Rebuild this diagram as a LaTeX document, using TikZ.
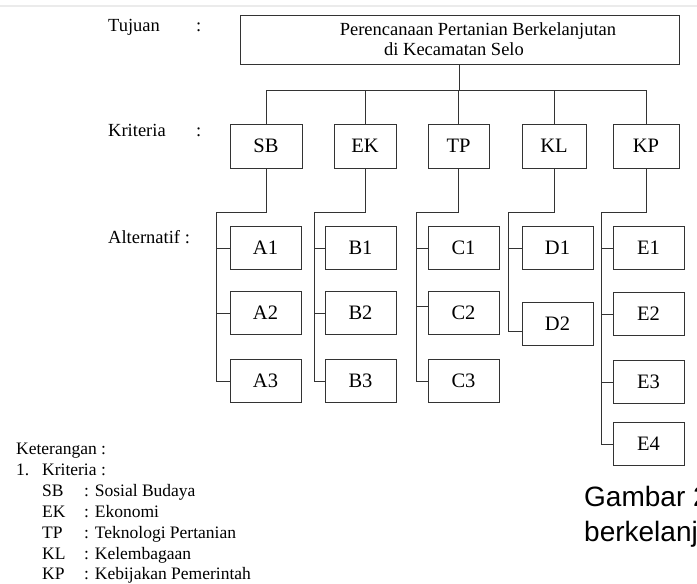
\documentclass[tikz,border=0pt]{standalone}
\usepackage{fontspec}
\setmainfont{Liberation Serif}
\newfontfamily\capfont{Liberation Sans}
\usepackage{tikz}
\usetikzlibrary{positioning}
\definecolor{hierline}{HTML}{333333}

\begin{document}
\begin{tikzpicture}[
  x=1pt, y=-1pt,
  font=\fontsize{18.5}{20}\selectfont,
  goal/.style={draw=hierline, line width=1pt, align=center, minimum width=439pt, minimum height=49pt, inner sep=2pt},
  crit/.style={draw=hierline, line width=1pt, minimum height=44pt, inner sep=1pt, font=\fontsize{20.5}{22}\selectfont},
  alt/.style={draw=hierline, line width=1pt, minimum width=71pt, minimum height=43pt, inner sep=1pt, font=\fontsize{20.5}{22}\selectfont},
  link/.style={draw=hierline, line width=1pt},
  lbl/.style={anchor=base west, inner sep=0pt},
  legend/.style={anchor=base west, inner sep=0pt, font=\fontsize{17.5}{20}\selectfont},
  caption/.style={anchor=base west, inner sep=0pt, font=\capfont\fontsize{28}{32}\selectfont}
]
\useasboundingbox (0,0) rectangle (697,584);
\draw[black!8, line width=2pt] (0,6) -- (697,6);

% levels
\node[lbl] (tujuan) at (108,31) {Tujuan};
\node[lbl] (tujuanColon) at (196,31) {:};
\node[lbl] (kriteria) at (108,136) {Kriteria};
\node[lbl] (kriteriaColon) at (196,136) {:};
\node[lbl] (alternatif) at (108,243) {Alternatif :};

% goal and criteria
\node[goal] (goal) at (459.5,39.5) {\hspace*{37pt}Perencanaan Pertanian Berkelanjutan\\di Kecamatan Selo\hspace*{11pt}};
\node[crit, minimum width=72pt] (sb) at (266,146) {SB};
\node[crit, minimum width=62pt] (ek) at (365,146) {EK};
\node[crit, minimum width=61pt] (tp) at (458.5,146) {TP};
\node[crit, minimum width=64pt] (kl) at (554,146) {KL};
\node[crit, minimum width=66pt] (kp) at (646,146) {KP};

% alternatives
\node[alt] (a1) at (265.5,248) {A1};
\node[alt, below=21pt of a1] (a2) {A2};
\node[alt, below=24pt of a2] (a3) {A3};
\node[alt] (b1) at (360.5,248) {B1};
\node[alt, below=21pt of b1] (b2) {B2};
\node[alt, below=24pt of b2] (b3) {B3};
\node[alt] (c1) at (463.5,248) {C1};
\node[alt, below=21pt of c1] (c2) {C2};
\node[alt, below=24pt of c2] (c3) {C3};
\node[alt] (d1) at (557.5,248) {D1};
\node[alt, below=32pt of d1] (d2) {D2};
\node[alt] (e1) at (648.5,248) {E1};
\node[alt, below=22pt of e1] (e2) {E2};
\node[alt, below=24pt of e2] (e3) {E3};
\node[alt, below=18pt of e3] (e4) {E4};

\coordinate (bus) at (0,90);
\coordinate (ta) at (216,212);
\coordinate (tb) at (314,212);
\coordinate (tc) at (416,212);
\coordinate (td) at (508,212);
\coordinate (te) at (601,212);

\draw[link] (goal.south) -- (goal.south |- bus);
\draw[link] (sb.north) |- (kp.north |- bus) -- (kp.north);
\draw[link] (ek.north) -- (ek.north |- bus);
\draw[link] (tp.north) -- (tp.north |- bus);
\draw[link] (kl.north) -- (kl.north |- bus);

\draw[link] (sb.south) |- (ta) |- (a3.west);
\draw[link] (ta |- a1.west) -- (a1.west);
\draw[link] (ta |- a2.west) -- (a2.west);
\draw[link] (ek.south) |- (tb) |- (b3.west);
\draw[link] (tb |- b1.west) -- (b1.west);
\draw[link] (tb |- b2.west) -- (b2.west);
\draw[link] (tp.south) |- (tc) |- (c3.west);
\draw[link] (tc |- c1.west) -- (c1.west);
\draw[link] ([yshift=7pt]tc |- c2.west) -- ([yshift=7pt]c2.west);
\draw[link] (kl.south) |- (td) |- ([yshift=-7pt]d2.west);
\draw[link] (td |- d1.west) -- (d1.west);
\draw[link] (kp.south) |- (te) |- (e4.west);
\draw[link] (te |- e1.west) -- (e1.west);
\draw[link] (te |- e2.west) -- (e2.west);
\draw[link] (te |- e3.west) -- (e3.west);

% legend
\node[legend] (ket) at (16,454) {Keterangan :};
\node[legend] (ketNum) at (16,475) {1.};
\node[legend] (ketKrit) at (42,475) {Kriteria :};
\node[legend] (ketSB) at (42,496) {SB};
\node[legend] (ketSBText) at (84,496) {: Sosial Budaya};
\node[legend] (ketEK) at (42,517) {EK};
\node[legend] (ketEKText) at (84,517) {: Ekonomi};
\node[legend] (ketTP) at (42,538) {TP};
\node[legend] (ketTPText) at (84,538) {: Teknologi Pertanian};
\node[legend] (ketKL) at (42,559) {KL};
\node[legend] (ketKLText) at (84,559) {: Kelembagaan};
\node[legend] (ketKP) at (42,579) {KP};
\node[legend] (ketKPText) at (84,579) {: Kebijakan Pemerintah};

% caption, cut at the right edge
\begin{scope}
\clip (0,0) rectangle (697,584);
\node[caption] (capA) at (584,506) {Gambar 2};
\node[caption] (capB) at (584,541) {berkelanj};
\end{scope}
\end{tikzpicture}
\end{document}
